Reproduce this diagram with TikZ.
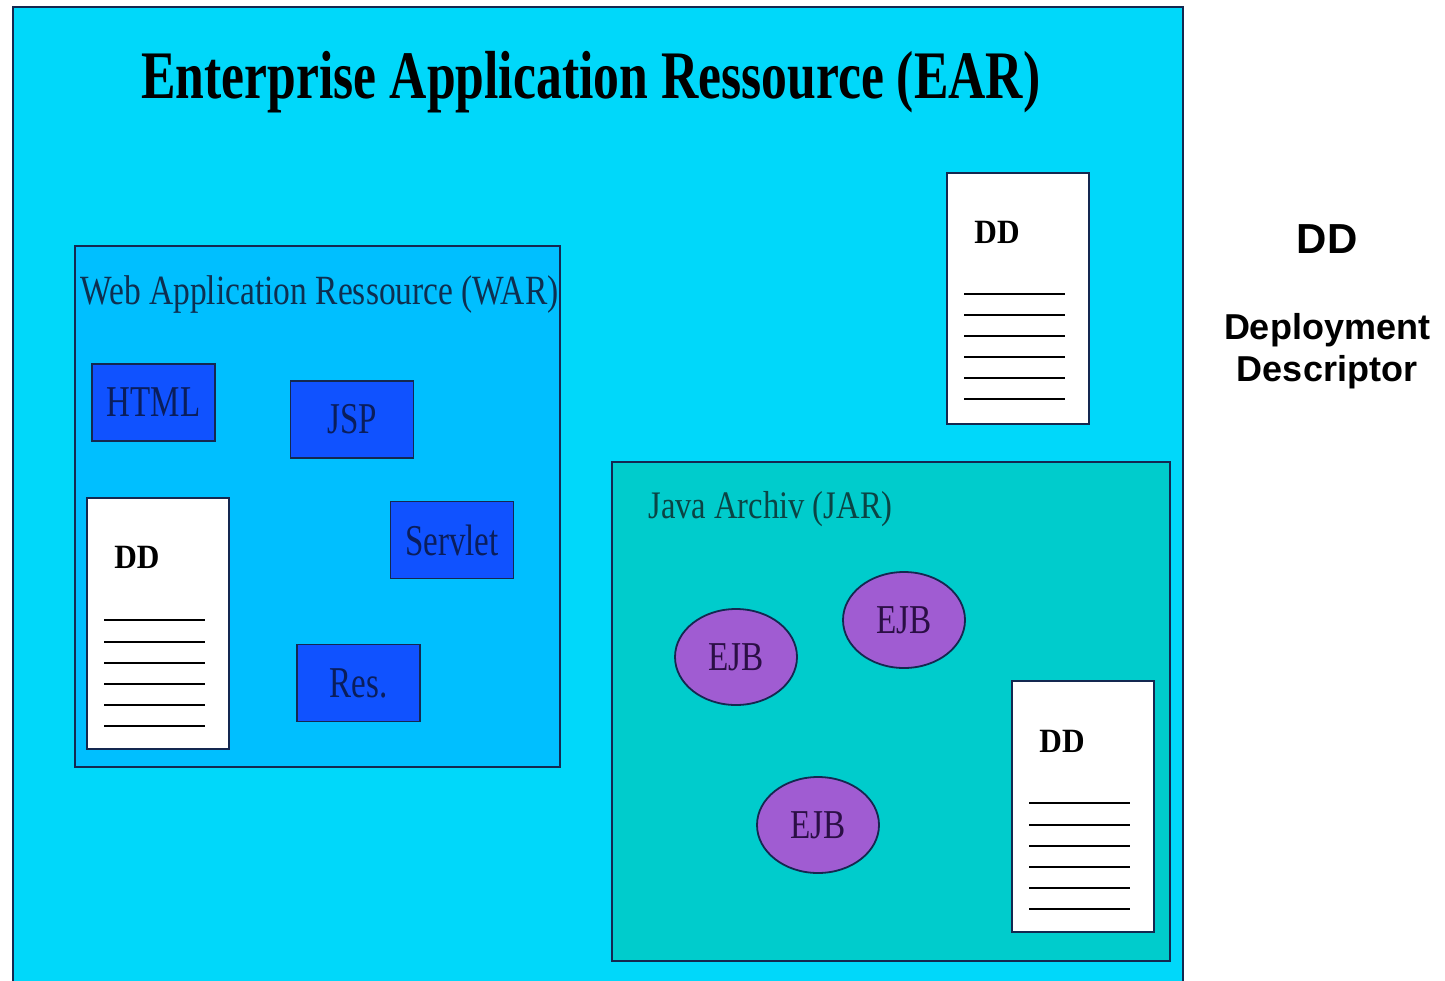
\documentclass[tikz,border=0pt]{standalone}
\usepackage{fontspec}
\setmainfont{Liberation Serif}
\newfontfamily\arialfont{Liberation Sans}
\usetikzlibrary{shapes.geometric}

\definecolor{earcyan}{RGB}{0,216,250}
\definecolor{warblue}{RGB}{0,191,255}
\definecolor{jarteal}{RGB}{0,204,204}
\definecolor{compblue}{RGB}{16,82,255}
\definecolor{ejbpurple}{RGB}{160,92,210}
\definecolor{edgenavy}{RGB}{20,40,80}
\definecolor{warink}{RGB}{14,47,80}
\definecolor{compink}{RGB}{10,30,92}
\definecolor{jarink}{RGB}{11,68,68}
\definecolor{ejbink}{RGB}{43,15,69}

% squeezed serif text, as on the slide
\newcommand{\squash}[2][0.78]{\scalebox{#1}[1]{#2}}

\tikzset{
  archive/.style={draw=edgenavy, line width=1pt},
  comp/.style={draw=edgenavy, line width=0.9pt, fill=compblue, text=compink,
    minimum width=61.5pt, minimum height=38.5pt, inner sep=0pt,
    font=\fontsize{22}{24}\selectfont},
  ejb/.style={ellipse, draw=edgenavy, line width=0.9pt, fill=ejbpurple, text=ejbink,
    minimum width=61pt, minimum height=48pt, inner sep=0pt,
    font=\fontsize{20.5}{22}\selectfont},
  sheet/.style={draw=edgenavy, line width=0.9pt, fill=white, anchor=north west,
    minimum width=71pt, minimum height=125.5pt, inner sep=0pt},
  sheettitle/.style={font=\bfseries\fontsize{17}{19}\selectfont, inner sep=0pt}
}

\begin{document}
\begin{tikzpicture}[x=0.5pt, y=-0.5pt]
  \clip (0,0) rectangle (1445,980);
  \fill[white] (0,0) rectangle (1445,980);

  % EAR
  \draw[archive, fill=earcyan] (13,7) rectangle (1183,1000);
  \node[anchor=base, inner sep=0pt, font=\bfseries\fontsize{34}{38}\selectfont] (eartitle)
    at (591,98) {\squash[0.76]{Enterprise Application Ressource (EAR)}};

  % WAR
  \draw[archive, fill=warblue] (75,246) rectangle (560,767);
  \node[anchor=base west, inner sep=0pt, text=warink, font=\fontsize{20.8}{23}\selectfont] (wartitle)
    at (80,304) {\squash[0.805]{Web Application Ressource (WAR)}};
  \node[comp] (html) at (153.5,402.5) {\squash[0.75]{HTML}};
  \node[comp] (jsp) at (352,419.5) {\squash[0.75]{JSP}};
  \node[comp] (servlet) at (452,540) {\squash[0.75]{Servlet}};
  \node[comp] (res) at (358.5,683) {\squash[0.75]{Res.}};

  % JAR
  \draw[archive, fill=jarteal] (612,462) rectangle (1170,961);
  \node[anchor=base west, inner sep=0pt, text=jarink, font=\fontsize{19.5}{22}\selectfont] (jartitle)
    at (648,518) {\squash[0.835]{Java Archiv (JAR)}};
  \node[ejb] (ejba) at (736,657) {\squash[0.81]{EJB}};
  \node[ejb] (ejbb) at (904,620) {\squash[0.81]{EJB}};
  \node[ejb] (ejbc) at (818,825) {\squash[0.81]{EJB}};

  % deployment descriptors
  \begin{scope}[shift={(946,172)}]
    \node[sheet] (ddear) at (0,0) {};
    \node[sheettitle] (ddeartext) at (51,60) {\squash[0.92]{DD}};
    \foreach \y in {122,143,164,185,206,227}
      \draw[line width=0.9pt] (18,\y) -- (119,\y);
  \end{scope}
  \begin{scope}[shift={(86,497)}]
    \node[sheet] (ddwar) at (0,0) {};
    \node[sheettitle] (ddwartext) at (51,60) {\squash[0.92]{DD}};
    \foreach \y in {123,145,166,187,208,229}
      \draw[line width=0.9pt] (18,\y) -- (119,\y);
  \end{scope}
  \begin{scope}[shift={(1011,680)}]
    \node[sheet] (ddjar) at (0,0) {};
    \node[sheettitle] (ddjartext) at (51,61) {\squash[0.92]{DD}};
    \foreach \y in {123,145,166,187,208,229}
      \draw[line width=0.9pt] (18,\y) -- (119,\y);
  \end{scope}

  % legend
  \node[font=\arialfont\bfseries\fontsize{21}{24}\selectfont, inner sep=0pt] (ddkey) at (1327,239) {DD};
  \node[font=\arialfont\bfseries\fontsize{18}{21}\selectfont, align=center, inner sep=0pt] (ddmeaning)
    at (1327,351) {Deployment\\Descriptor};
\end{tikzpicture}
\end{document}
